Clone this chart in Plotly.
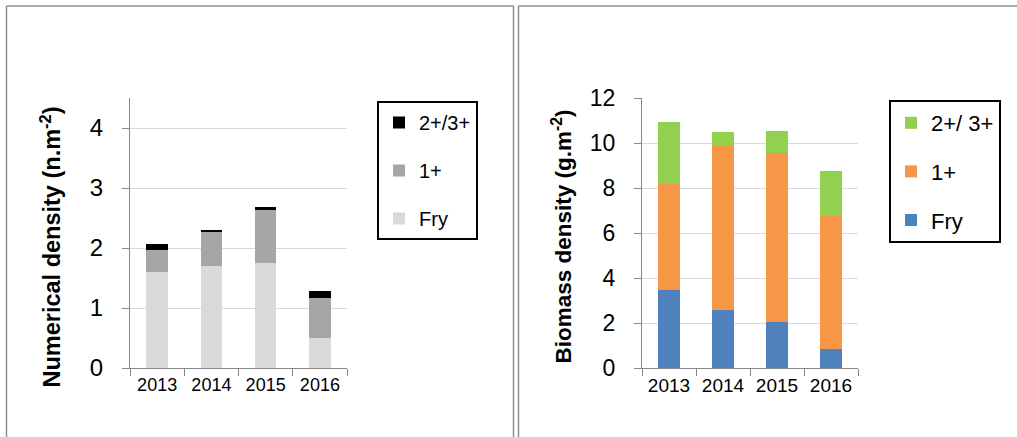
import plotly.graph_objects as go

W, H = 1017, 437

years = ["2013", "2014", "2015", "2016"]

# Numerical density (n.m-2)
num_fry = [1.60, 1.70, 1.755, 0.50]
num_1p = [0.36, 0.57, 0.875, 0.67]
num_2p = [0.10, 0.03, 0.05, 0.12]

# Biomass density (g.m-2)
bio_fry = [3.48, 2.56, 2.04, 0.83]
bio_1p = [4.72, 7.29, 7.50, 5.94]
bio_2p = [2.72, 0.65, 1.01, 2.00]

left_names = ["Fry", "1+", "2+/3+"]
right_names = ["Fry", "1+", "2+/ 3+"]
left_colors = ["#d9d9d9", "#a6a6a6", "#000000"]
right_colors = ["#4f81bd", "#f79646", "#92d050"]

FONT = "Liberation Sans"

fig = go.Figure()

for i, (vals, name, col) in enumerate(zip([num_fry, num_1p, num_2p], left_names, left_colors)):
    fig.add_trace(go.Bar(x=years, y=vals, name=name, marker=dict(color=col, line=dict(width=0)),
                         xaxis="x", yaxis="y", legend="legend", legendgroup="L" + str(i),
                         legendrank=3 - i))

for i, (vals, name, col) in enumerate(zip([bio_fry, bio_1p, bio_2p], right_names, right_colors)):
    fig.add_trace(go.Bar(x=years, y=vals, name=name, marker=dict(color=col, line=dict(width=0)),
                         xaxis="x2", yaxis="y2", legend="legend2", legendgroup="R" + str(i),
                         legendrank=3 - i))

def px(x):
    return x / W

def py(y):
    return 1 - y / H

axis_common = dict(showline=True, linecolor="#868686", linewidth=1, ticks="outside",
                   tickcolor="#868686", ticklen=7, zeroline=False, automargin=False)

ydom = [py(368), py(98)]

fig.update_layout(
    width=W, height=H,
    margin=dict(l=0, r=0, t=0, b=0, autoexpand=False),
    paper_bgcolor="white", plot_bgcolor="white",
    barmode="stack", bargap=0.6,
    font=dict(family=FONT, color="#000000"),
    xaxis=dict(domain=[px(130), px(347)], anchor="y", tickson="boundaries", showgrid=False,
               tickfont=dict(size=18), **axis_common),
    yaxis=dict(domain=ydom, anchor="x", range=[0, 4.5], dtick=1, showgrid=True,
               gridcolor="#d9d9d9", gridwidth=1, tickfont=dict(size=24),
               ticklabelstandoff=14, **axis_common),
    xaxis2=dict(domain=[px(642), px(858)], anchor="y2", tickson="boundaries", showgrid=False,
                tickfont=dict(size=19), **axis_common),
    yaxis2=dict(domain=ydom, anchor="x2", range=[0, 12], dtick=2, showgrid=True,
                gridcolor="#d9d9d9", gridwidth=1, tickfont=dict(size=23),
                ticklabelstandoff=14, **axis_common),
    legend=dict(x=px(377), y=py(101), xanchor="left", yanchor="top",
                bordercolor="#000000", borderwidth=2, bgcolor="white",
                font=dict(size=20), traceorder="grouped", tracegroupgap=19),
    legend2=dict(x=px(889), y=py(100), xanchor="left", yanchor="top",
                 bordercolor="#000000", borderwidth=2, bgcolor="white",
                 font=dict(size=22), traceorder="grouped", tracegroupgap=17),
    showlegend=True,
)

fig.add_annotation(text="<b>Numerical density (n.m<sup>-2</sup>)</b>", x=px(50), y=py(247.5),
                   xref="paper", yref="paper", textangle=-90, showarrow=False,
                   xanchor="center", yanchor="middle", font=dict(size=23.5, family=FONT))
fig.add_annotation(text="<b>Biomass density (g.m<sup>-2</sup>)</b>", x=px(561), y=py(236.5),
                   xref="paper", yref="paper", textangle=-90, showarrow=False,
                   xanchor="center", yanchor="middle", font=dict(size=22.5, family=FONT))

# table-cell borders around the two charts
bc = dict(color="#8f8f8f", width=1.5)
for (x0, y0, x1, y1) in [(6.5, 6, 514, 6), (518.5, 6, 1017, 6),
                         (6.5, 6, 6.5, 437), (513.5, 6, 513.5, 437), (518.5, 6, 518.5, 437)]:
    fig.add_shape(type="line", xref="paper", yref="paper",
                  x0=px(x0), y0=py(y0), x1=px(x1), y1=py(y1), line=bc)

fig.write_html("out.html", config={"displayModeBar": False},
               post_script="document.body.style.margin='0';")
